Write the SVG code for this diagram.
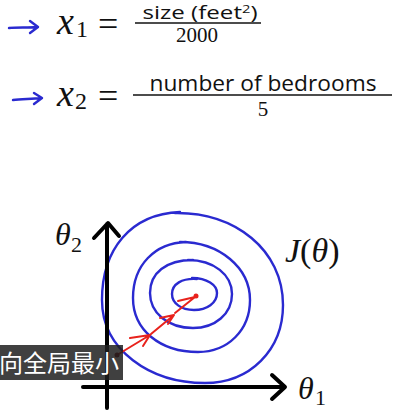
<svg xmlns="http://www.w3.org/2000/svg" width="412" height="415" viewBox="0 0 412 415">
<style>
.math{font-family:"Liberation Serif","DejaVu Serif",serif;font-style:italic;fill:#111}
.num{font-family:"Liberation Serif","DejaVu Serif",serif;fill:#111}
.sans{font-family:"Open Sans","Liberation Sans",sans-serif;fill:#111}
.ink{fill:none;stroke:#2a2ad0;stroke-width:2.4;stroke-linecap:round;stroke-linejoin:round}
.axis{fill:none;stroke:#000;stroke-width:4;stroke-linecap:round;stroke-linejoin:round}
.red{fill:none;stroke:#e8221c;stroke-width:2;stroke-linecap:round;stroke-linejoin:round}
.frac{stroke:#111;stroke-width:1.6}
</style>
<rect width="412" height="415" fill="#fff"/>
<g id="formula1">
<path class="ink" d="M9,28 C18,27 28,28 37,27 M30,21 L38,27 L30,33"/>
<text class="math" x="57" y="34" font-size="38">x</text>
<text class="num" x="76" y="37" font-size="24">1</text>
<text class="num" x="98" y="36" font-size="36">=</text>
<text class="sans" x="200" y="19" font-size="18" text-anchor="middle" textLength="115" lengthAdjust="spacingAndGlyphs">size (feet<tspan font-size="11" dy="-6">2</tspan><tspan dy="6">)</tspan></text>
<line class="frac" x1="135" y1="23" x2="261" y2="23"/>
<text class="num" x="197" y="42" font-size="21" text-anchor="middle">2000</text>
</g>
<g id="formula2">
<path class="ink" d="M13,100 C22,99 32,99 41,98 M34,93 L42,98 L34,104"/>
<text class="math" x="57" y="106" font-size="38">x</text>
<text class="num" x="75" y="109" font-size="24">2</text>
<text class="num" x="98" y="108" font-size="36">=</text>
<text class="sans" x="263" y="91" font-size="22" text-anchor="middle" textLength="227" lengthAdjust="spacingAndGlyphs">number of bedrooms</text>
<line class="frac" x1="133" y1="95" x2="392" y2="95"/>
<text class="num" x="263" y="116" font-size="21" text-anchor="middle">5</text>
</g>
<g id="contours">
<path class="ink" d="M175,213 C235,212 283,250 283,305 C283,350 250,383 205,383 C150,383 102,350 102,300 C102,250 130,214 180,212"/>
<path class="ink" d="M180,242 C220,242 250,268 250,300 C250,330 228,352 198,352 C160,352 133,330 133,298 C133,265 155,243 186,242"/>
<path class="ink" d="M188,260 C214,260 232,275 232,294 C232,314 215,328 193,328 C168,328 150,313 150,293 C150,273 166,260 193,260"/>
<path class="ink" d="M192,278 C207,278 217,285 217,293 C217,303 207,310 194,310 C181,310 172,303 172,294 C172,284 182,278 197,279"/>
</g>
<g id="axes">
<path class="axis" d="M107,408 L107,224 M94,238 L108,223 L119,236"/>
<path class="axis" d="M83,387 L284,387 M272,375 L285,387 L272,399"/>
</g>
<g id="labels">
<text class="math" x="55" y="245" font-size="32">θ</text>
<text class="num" x="71" y="252" font-size="22">2</text>
<text class="math" x="298" y="399" font-size="32">θ</text>
<text class="num" x="315" y="405" font-size="22">1</text>
<text class="math" x="285" y="262" font-size="34">J<tspan font-style="normal">(</tspan>θ<tspan font-style="normal">)</tspan></text>
</g>
<g id="descent">
<path class="red" d="M117,355 L150,335 M130,338 L150,335 L143,346"/>
<path class="red" d="M151,334 L174,315 M160,318 L174,315 L168,324"/>
<path class="red" d="M175,313 L195,297 M178,301 L195,297"/>
<circle cx="196" cy="296" r="2.5" fill="#e8221c"/>
<circle cx="117" cy="355" r="2.5" fill="#7a1010"/>
</g>
<g id="subtitle">
<rect x="0" y="345" width="123" height="35" fill="#1e1e1e" fill-opacity="0.85"/>
<text x="-1" y="372" font-size="24" fill="#fff" font-family="'Noto Sans CJK SC','Noto Sans',sans-serif">向全局最小</text>
</g>
</svg>
